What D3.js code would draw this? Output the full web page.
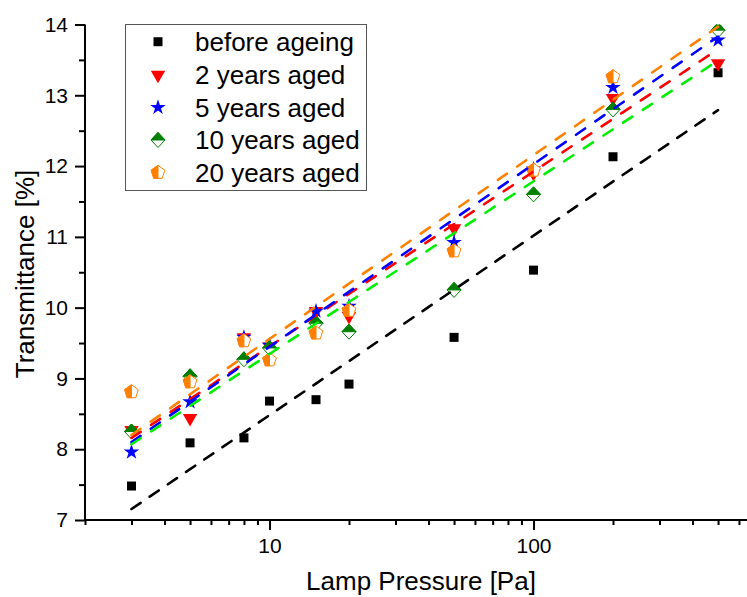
<!DOCTYPE html>
<html>
<head>
<meta charset="utf-8">
<script src="https://cdn.jsdelivr.net/npm/d3@7"></script>
<style>
html,body{margin:0;padding:0;background:#fff;}
svg{display:block;}
text{font-family:"Liberation Sans",Arial,sans-serif;fill:#000;}
</style>
</head>
<body>
<svg id="chart" width="747" height="597"></svg>
<script>
// ---- data ----
const pressures = [3, 5, 8, 10, 15, 20, 50, 100, 200, 500];
const seriesNames = ["before ageing", "2 years aged", "5 years aged", "10 years aged", "20 years aged"];
const beforeAgeing = [7.48, 8.09, 8.16, 8.68, 8.70, 8.92, 9.58, 10.53, 12.13, 13.32];
const aged2 = [8.27, 8.44, 9.58, 9.45, 9.95, 9.88, 11.12, 11.90, 12.96, 13.45];
const aged5 = [7.96, 8.67, 9.58, 9.47, 9.95, 10.02, 10.92, 11.96, 13.11, 13.78];
const aged10 = [8.25, 9.03, 9.27, 9.43, 9.78, 9.66, 10.25, 11.60, 12.80, 13.92];
const aged20 = [8.81, 8.95, 9.53, 9.26, 9.64, 9.96, 10.80, 11.94, 13.26, null];
// fitted (dashed) lines: value at first and last pressure
const fitRange = [3, 500];
const fitBefore = [7.155, 12.79];
const fit2 = [8.16, 13.65];
const fit5 = [8.10, 13.83];
const fit10 = [8.07, 13.49];
const fit20 = [8.20, 13.97];
const xMajorTicks = [10, 100];
const xMinorTicks = [2,3,4,5,6,7,8,9,20,30,40,50,60,70,80,90,200,300,400,500,600,700];
const yMajorTicks = [7, 8, 9, 10, 11, 12, 13, 14];
const yMinorTicks = [7.5, 8.5, 9.5, 10.5, 11.5, 12.5, 13.5];

const markerColors = ["#000000", "#FF0000", "#0000FF", "#008000", "#FF8000"];
const lineColors = ["#000000", "#FF0000", "#0000FF", "#00EE00", "#FF8000"];
const values = [beforeAgeing, aged2, aged5, aged10, aged20];
const fits = [fitBefore, fit2, fit5, fit10, fit20];

// ---- layout ----
const svg = d3.select("#chart");
const pL = 85, pT = 24.5, pB = 520;
const x = d3.scaleLog().domain([2, 700]).range([pL, pL + 264 * Math.log10(350)]);
const y = d3.scaleLinear().domain([7, 14]).range([pB, pT]);

svg.append("defs").append("clipPath").attr("id", "plotclip")
  .append("rect").attr("x", pL).attr("y", pT).attr("width", 747 - pL).attr("height", pB - pT);

// ---- axes ----
const axisFont = 21;
const fontFam = '"Liberation Sans",Arial,sans-serif';
const gx = svg.append("g").attr("transform", `translate(0,${pB})`);
gx.call(d3.axisBottom(x).tickValues(xMajorTicks).tickSize(10).tickPadding(8).tickFormat(d3.format("d")));
gx.append("g").call(d3.axisBottom(x).tickValues(xMinorTicks).tickSize(5).tickFormat(""));
gx.selectAll(".domain").remove();
gx.selectAll("line").attr("stroke", "#000").attr("stroke-width", 2);
gx.selectAll("text").attr("font-size", axisFont).style("font-family", fontFam).attr("fill", "#000");

const gy = svg.append("g").attr("transform", `translate(${pL},0)`);
gy.call(d3.axisLeft(y).tickValues(yMajorTicks).tickSize(10).tickPadding(7).tickFormat(d3.format("d")));
gy.append("g").call(d3.axisLeft(y).tickValues(yMinorTicks).tickSize(6).tickFormat(""));
gy.selectAll(".domain").remove();
gy.selectAll("line").attr("stroke", "#000").attr("stroke-width", 2);
gy.selectAll("text").attr("font-size", axisFont).style("font-family", fontFam).attr("fill", "#000");

svg.append("line").attr("x1", pL - 1).attr("x2", 747).attr("y1", pB).attr("y2", pB)
  .attr("stroke", "#000").attr("stroke-width", 2);
svg.append("line").attr("x1", pL).attr("x2", pL).attr("y1", pT).attr("y2", pB + 1)
  .attr("stroke", "#000").attr("stroke-width", 2);

svg.append("text").attr("x", 421).attr("y", 590).attr("text-anchor", "middle")
  .attr("font-size", 26).text("Lamp Pressure [Pa]");
svg.append("text").attr("transform", "translate(34,274) rotate(-90)").attr("text-anchor", "middle")
  .attr("font-size", 26).text("Transmittance [%]");

// ---- marker shapes ----
function drawMarker(g, i, cx, cy) {
  const c = markerColors[i];
  const t = `translate(${cx},${cy})`;
  if (i === 0) {
    g.append("path").attr("d", d3.symbol(d3.symbolSquare, 81)()).attr("transform", t).attr("fill", c);
  } else if (i === 1) {
    g.append("path").attr("d", d3.symbol(d3.symbolTriangle, 90)()).attr("transform", t + " rotate(180)").attr("fill", c);
  } else if (i === 2) {
    g.append("path").attr("d", d3.symbol(d3.symbolStar, 75)()).attr("transform", t).attr("fill", c);
  } else if (i === 3) {
    const w = 7, h = 7.5;
    g.append("path").attr("d", `M0,${-h}L${w},0L0,${h}L${-w},0Z`).attr("transform", t)
      .attr("fill", "#fff").attr("stroke", c).attr("stroke-width", 1);
    g.append("path").attr("d", `M0,${-h}L${w},0L${-w},0Z`).attr("transform", t)
      .attr("fill", c).attr("stroke", c).attr("stroke-width", 1);
  } else {
    const r = 7.2;
    const pts = d3.range(5).map(k => {
      const a = (-90 + 72 * k) * Math.PI / 180;
      return [r * Math.cos(a), r * Math.sin(a)];
    });
    g.append("path").attr("d", "M" + pts.map(p => p.join(",")).join("L") + "Z").attr("transform", t)
      .attr("fill", "#fff").attr("stroke", c).attr("stroke-width", 1);
    const half = [pts[0], pts[4], pts[3], [0, pts[3][1]]];
    g.append("path").attr("d", "M" + half.map(p => p.join(",")).join("L") + "Z").attr("transform", t)
      .attr("fill", c).attr("stroke", c).attr("stroke-width", 1);
  }
}

// ---- markers ----
const plot = svg.append("g").attr("clip-path", "url(#plotclip)");
values.forEach((vals, i) => {
  const g = plot.append("g");
  vals.forEach((v, k) => {
    if (v == null) return;
    drawMarker(g, i, x(pressures[k]), y(v));
  });
});

// ---- fit lines ----
const line = d3.line().x(d => x(d[0])).y(d => y(d[1]));
fits.forEach((f, i) => {
  plot.append("path")
    .attr("d", line([[fitRange[0], f[0]], [fitRange[1], f[1]]]))
    .attr("fill", "none").attr("stroke", lineColors[i]).attr("stroke-width", 2.6)
    .attr("stroke-dasharray", i === 0 ? "11,11" : "11,12.5")
    .attr("stroke-linecap", "round");
});

// ---- legend ----
const lg = svg.append("g");
lg.append("rect").attr("x", 125.5).attr("y", 24.5).attr("width", 241).attr("height", 166)
  .attr("fill", "#fff").attr("stroke", "#555").attr("stroke-width", 1);
const rowY = [41.7, 75, 107.5, 140, 172.5];
seriesNames.forEach((name, i) => {
  drawMarker(lg, i, 158, rowY[i]);
  lg.append("text").attr("x", 195).attr("y", rowY[i] + 9).attr("font-size", 26).text(name);
});
</script>
</body>
</html>
